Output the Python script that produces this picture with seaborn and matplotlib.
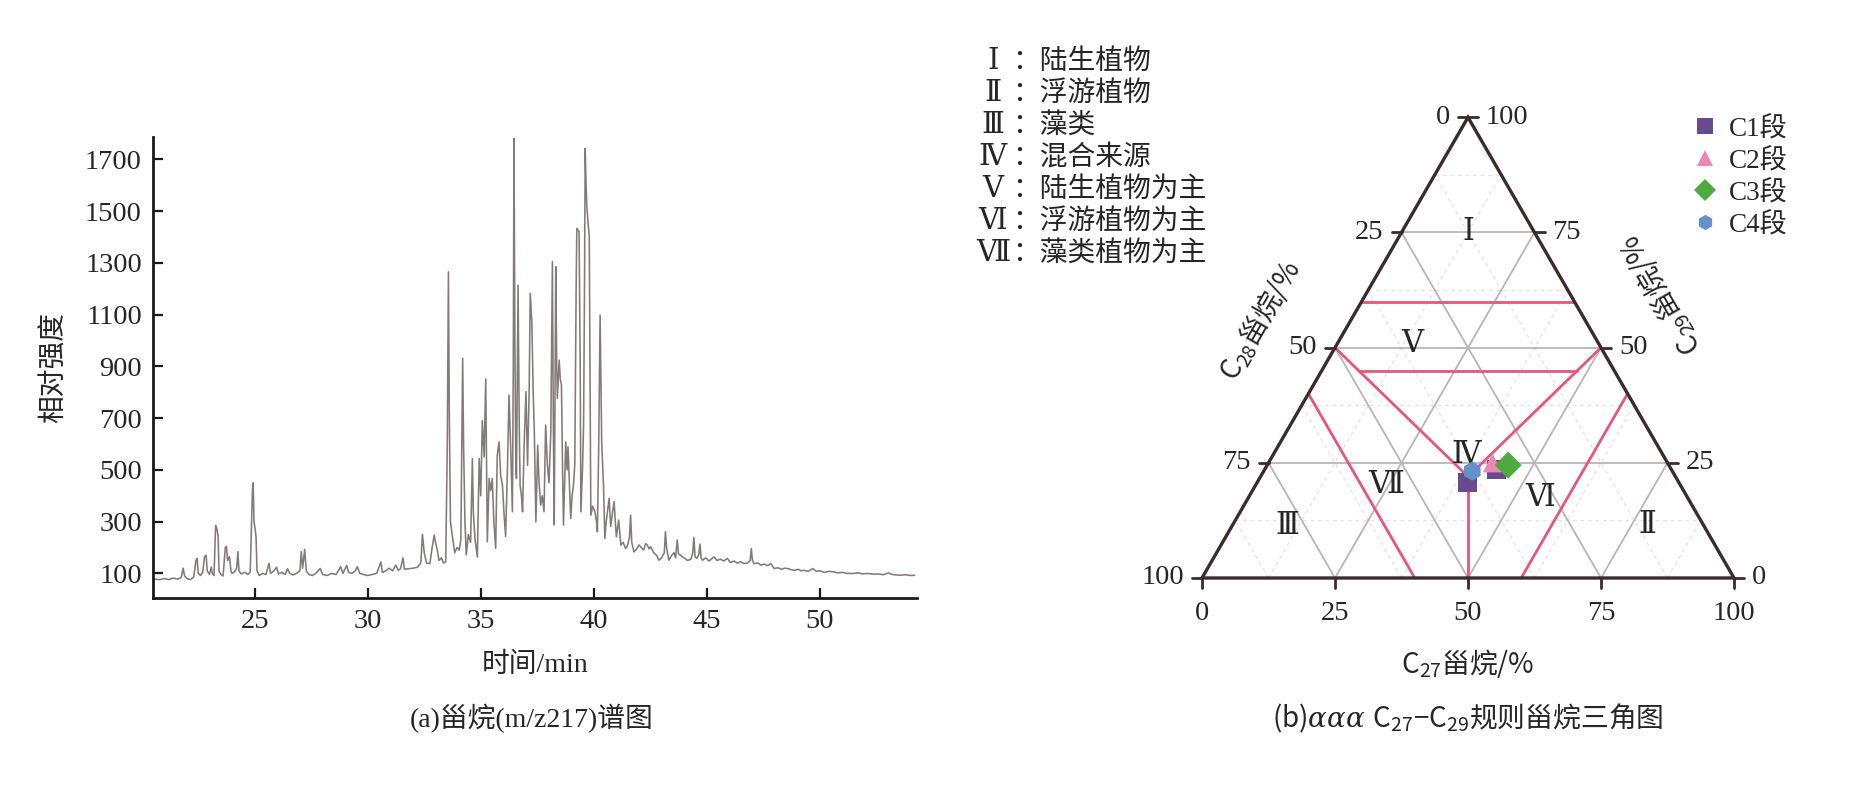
import numpy as np
import pandas as pd
import matplotlib
matplotlib.use('Agg')
import matplotlib.pyplot as plt
import seaborn as sns

# ---- (a) steranes m/z 217 trace ----
time_min = [
    20.55, 20.8, 21.0, 21.2, 21.4, 21.6, 21.75, 21.83, 21.9, 22.0, 22.15, 22.3, 22.4, 22.45, 22.5,
    22.6, 22.7, 22.78, 22.85, 22.9, 23.0, 23.08, 23.12, 23.2, 23.27, 23.32, 23.38, 23.42, 23.5, 23.6,
    23.7, 23.75, 23.8, 23.88, 23.95, 24.0, 24.1, 24.2, 24.26, 24.3, 24.4, 24.55, 24.7, 24.8, 24.9,
    24.93, 24.97, 25.02, 25.06, 25.1, 25.2, 25.35, 25.5, 25.63, 25.7, 25.85, 25.97, 26.05, 26.2, 26.35,
    26.45, 26.55, 26.7, 26.85, 27.0, 27.06, 27.12, 27.21, 27.28, 27.4, 27.55, 27.7, 27.9, 28.0, 28.2,
    28.4, 28.6, 28.8, 28.9, 29.07, 29.15, 29.3, 29.45, 29.54, 29.65, 29.8, 30.0, 30.2, 30.4, 30.58,
    30.65, 30.8, 30.95, 31.1, 31.24, 31.35, 31.45, 31.56, 31.62, 31.8, 32.0, 32.2, 32.35, 32.42, 32.5,
    32.6, 32.75, 32.85, 32.94, 33.0, 33.08, 33.15, 33.26, 33.35, 33.45, 33.52, 33.57, 33.61, 33.66, 33.75,
    33.85, 33.95, 34.05, 34.12, 34.2, 34.24, 34.3, 34.36, 34.45, 34.55, 34.63, 34.67, 34.75, 34.85, 34.93,
    35.0, 35.07, 35.15, 35.22, 35.26, 35.29, 35.37, 35.44, 35.51, 35.58, 35.66, 35.73, 35.81, 35.88, 35.96,
    36.03, 36.1, 36.18, 36.25, 36.32, 36.4, 36.44, 36.47, 36.51, 36.55, 36.58, 36.65, 36.7, 36.74, 36.8,
    36.85, 36.92, 37.0, 37.07, 37.14, 37.19, 37.26, 37.32, 37.37, 37.44, 37.52, 37.58, 37.65, 37.72, 37.8,
    37.87, 37.95, 38.02, 38.1, 38.17, 38.21, 38.25, 38.32, 38.36, 38.39, 38.47, 38.52, 38.57, 38.62, 38.66,
    38.76, 38.82, 38.86, 38.92, 38.98, 39.04, 39.1, 39.16, 39.22, 39.25, 39.35, 39.4, 39.43, 39.5, 39.55,
    39.59, 39.62, 39.66, 39.69, 39.75, 39.8, 39.84, 39.87, 39.95, 40.05, 40.12, 40.16, 40.22, 40.28, 40.32,
    40.35, 40.43, 40.49, 40.55, 40.62, 40.68, 40.75, 40.82, 40.9, 40.96, 41.0, 41.06, 41.1, 41.2, 41.3,
    41.41, 41.5, 41.58, 41.63, 41.68, 41.78, 41.9, 42.0, 42.07, 42.2, 42.3, 42.37, 42.45, 42.52, 42.65,
    42.78, 42.88, 43.0, 43.12, 43.17, 43.22, 43.32, 43.45, 43.55, 43.62, 43.69, 43.75, 43.85, 43.91, 44.0,
    44.15, 44.3, 44.38, 44.43, 44.48, 44.55, 44.64, 44.7, 44.75, 44.81, 44.95, 45.1, 45.2, 45.32, 45.45,
    45.6, 45.75, 45.91, 46.05, 46.2, 46.35, 46.5, 46.65, 46.8, 46.92, 46.97, 47.02, 47.09, 47.25, 47.4,
    47.55, 47.7, 47.83, 47.98, 48.15, 48.3, 48.45, 48.57, 48.75, 48.9, 49.05, 49.16, 49.3, 49.5, 49.68,
    49.85, 50.0, 50.2, 50.4, 50.6, 50.8, 51.0, 51.2, 51.5, 51.7, 51.9, 52.1, 52.4, 52.6, 52.8,
    53.05, 53.2, 53.4, 53.6, 53.8, 54.0, 54.2,
]
intensity = [
    78, 76, 80, 76, 82, 78, 84, 120, 90, 80, 76, 86, 150, 158, 100,
    92, 104, 165, 170, 110, 96, 125, 100, 92, 285, 275, 244, 110, 96, 90,
    200, 204, 150, 165, 110, 100, 105, 120, 184, 110, 98, 104, 96, 105, 420,
    450, 300, 270, 240, 110, 92, 100, 96, 139, 100, 110, 124, 98, 104, 96,
    118, 100, 94, 100, 110, 184, 120, 193, 110, 96, 92, 100, 119, 96, 92,
    100, 96, 126, 100, 131, 104, 100, 110, 126, 100, 96, 92, 96, 100, 144,
    104, 110, 120, 110, 132, 112, 118, 160, 116, 118, 120, 124, 140, 251, 180,
    140, 138, 200, 248, 220, 190, 150, 160, 140, 145, 600, 1265, 700, 300, 240,
    180, 200, 190, 230, 931, 600, 300, 171, 250, 220, 544, 338, 230, 163, 544,
    400, 690, 550, 851, 500, 222, 467, 420, 467, 300, 197, 557, 608, 480, 441,
    330, 242, 500, 789, 600, 338, 900, 1780, 1000, 520, 467, 1214, 700, 441, 400,
    338, 600, 802, 518, 800, 1182, 1072, 800, 647, 299, 595, 450, 364, 400, 338,
    673, 518, 450, 647, 1304, 700, 287, 1285, 900, 776, 924, 850, 828, 500, 287,
    608, 500, 589, 450, 312, 400, 441, 518, 1200, 1433, 1420, 900, 338, 500, 673,
    1200, 1742, 1600, 1523, 1450, 1407, 800, 325, 360, 338, 300, 261, 600, 1098, 800,
    608, 441, 235, 300, 350, 390, 281, 330, 377, 290, 241, 280, 306, 209, 220,
    196, 210, 240, 325, 220, 183, 195, 210, 203, 190, 215, 209, 195, 203, 180,
    170, 151, 160, 180, 261, 200, 151, 170, 180, 160, 229, 175, 170, 164, 160,
    150, 155, 180, 239, 165, 158, 170, 213, 160, 151, 160, 148, 155, 164, 150,
    155, 148, 158, 142, 148, 140, 145, 138, 140, 150, 196, 150, 138, 140, 132,
    136, 130, 138, 119, 122, 116, 120, 119, 114, 112, 116, 110, 112, 108, 119,
    108, 110, 104, 108, 106, 102, 104, 100, 100, 102, 98, 100, 97, 98, 95,
    102, 96, 94, 93, 95, 92, 93,
]
x_ticks_a = [25, 30, 35, 40, 45, 50]
y_ticks_a = [100, 300, 500, 700, 900, 1100, 1300, 1500, 1700]

# ---- (b) ternary diagram, percentages ----
segment = ['C1段', 'C1段', 'C2段', 'C3段', 'C4段']
c27 = [39.5, 43.5, 42.1, 45.3, 39.2]
c28 = [39.8, 32.9, 32.9, 30.2, 37.6]
c29 = [20.7, 23.6, 25.0, 24.5, 23.2]
seg_order = ['C1段', 'C2段', 'C3段', 'C4段']
seg_colors = ['#6a4a8e', '#ec88b8', '#4faa3e', '#6690c8']
seg_markers = ['s', '^', 'D', 'h']

# region boundary segments, each as (C27 start, C27 end), (C29 start, C29 end)
bound_c27 = [[0, 40], [7, 48], [0, 39], [50, 39], [39, 50], [0, 40], [60, 60]]
bound_c29 = [[60, 60], [45, 45], [50, 22], [50, 22], [22, 0], [40, 0], [40, 0]]

region_names = ['Ⅰ', 'Ⅱ', 'Ⅲ', 'Ⅳ', 'Ⅴ', 'Ⅵ', 'Ⅶ']
region_desc = ['陆生植物', '浮游植物', '藻类', '混合来源', '陆生植物为主', '浮游植物为主', '藻类植物为主']
tern_ticks = [0, 25, 50, 75, 100]

sns.set_style('ticks')
plt.rcParams['font.family'] = ['Liberation Serif', 'Noto Sans CJK SC', 'DejaVu Sans']
plt.rcParams['mathtext.fontset'] = 'custom'
plt.rcParams['mathtext.rm'] = 'Noto Sans CJK SC'
plt.rcParams['mathtext.it'] = 'DejaVu Serif:italic'
plt.rcParams['axes.unicode_minus'] = False

W, H = 1850, 791
fig = plt.figure(figsize=(W / 100, H / 100), dpi=100)


def fx(px):
    return px / W


def fy(py):
    return 1 - py / H


# ---------------- (a) chromatogram ----------------
ax1 = fig.add_axes([fx(153), fy(598), fx(917) - fx(153), fy(137) - fy(598)])
sns.lineplot(x=time_min, y=intensity, ax=ax1, color='#857a7a', lw=1.15,
             estimator=None, sort=False)
ax1.set_xlim(20.5, 54.3)
ax1.set_ylim(5, 1786)
ax1.set_xticks(x_ticks_a)
ax1.set_yticks(y_ticks_a)
for s in ['top', 'right']:
    ax1.spines[s].set_visible(False)
for s in ['left', 'bottom']:
    ax1.spines[s].set_linewidth(2.0)
    ax1.spines[s].set_color('#1a1a1a')
ax1.tick_params(direction='in', length=7, width=1.6, color='#1a1a1a',
                labelsize=20.5, pad=8)
ax1.set_xlabel('时间/min', fontsize=20)
ax1.set_ylabel('相对强度', fontsize=20)
ax1.xaxis.set_label_coords(0.5, -0.118)
ax1.yaxis.set_label_coords(-0.112, 0.5)
fig.text(fx(532), fy(718), '(a)甾烷(m/z217)谱图', fontsize=20, ha='center', va='center')

# ---------------- (b) ternary ----------------
S3 = np.sqrt(3) / 2
ppu = 5.32
x0, y0 = 1202, 578
ax2 = fig.add_axes([fx(1100), 0, fx(1850) - fx(1100), 1])
ax2.set_xlim((1100 - x0) / ppu, (1850 - x0) / ppu)
ax2.set_ylim(-(791 - y0) / ppu, y0 / ppu)
ax2.axis('off')


def tern(a27, a29):
    a27 = np.asarray(a27, dtype=float)
    a29 = np.asarray(a29, dtype=float)
    return a27 + a29 / 2, a29 * S3


# minor dashed grid
for v in [12.5, 37.5, 62.5, 87.5]:
    for (pa, pb) in [((0, v), (100 - v, v)), ((v, 0), (v, 100 - v)), ((100 - v, 0), (0, 100 - v))]:
        xs, ys = tern([pa[0], pb[0]], [pa[1], pb[1]])
        ax2.plot(xs, ys, color='#ebe0e0', lw=0.9, ls=(0, (3, 3)), zorder=1)
# major grid
for v in [25, 50, 75]:
    for (pa, pb) in [((0, v), (100 - v, v)), ((v, 0), (v, 100 - v)), ((100 - v, 0), (0, 100 - v))]:
        xs, ys = tern([pa[0], pb[0]], [pa[1], pb[1]])
        ax2.plot(xs, ys, color='#bdb3b3', lw=1.3, zorder=2)

# region boundaries
for b27, b29 in zip(bound_c27, bound_c29):
    xs, ys = tern(b27, b29)
    ax2.plot(xs, ys, color='#e4577a', lw=2.0, zorder=3, solid_capstyle='round')

# outline
ox, oy = tern([0, 100, 0, 0], [0, 0, 100, 0])
ax2.plot(ox, oy, color='#3b2b2b', lw=2.4, zorder=4, solid_joinstyle='miter')

# ticks and tick labels
tl = 10 / ppu
gap = 8 / ppu
for v in tern_ticks:
    # bottom (C27)
    bx, by = tern(v, 0)
    ax2.plot([bx, bx], [by, by - tl], color='#3b2b2b', lw=2.0, zorder=4)
    ax2.text(bx, by - 35 / ppu, str(v), fontsize=20.5, ha='center', va='center')
    # left (C28 = v, C27 = 0)
    lx, ly = tern(0, 100 - v)
    ax2.plot([lx - tl, lx], [ly, ly], color='#3b2b2b', lw=2.0, zorder=4)
    ax2.text(lx - tl - gap, ly, str(v), fontsize=20.5, ha='right', va='center')
    # right (C29 = v, C28 = 0)
    rx, ry = tern(100 - v, v)
    ax2.plot([rx, rx + tl], [ry, ry], color='#3b2b2b', lw=2.0, zorder=4)
    ax2.text(rx + tl + gap, ry, str(v), fontsize=20.5, ha='left', va='center')

# region labels
region_pos_c27 = [12.4, 77.9, 10.4, 36.2, 14.0, 54.8, 24.6]
region_pos_c29 = [75.2, 11.7, 11.4, 26.8, 50.9, 17.5, 20.2]
for name, a, b in zip(region_names, region_pos_c27, region_pos_c29):
    tx, ty = tern(a, b)
    ax2.text(tx, ty, name, fontsize=22, ha='center', va='center', zorder=5,
             family=['DejaVu Serif', 'Noto Sans CJK SC'])

# data points
px, py = tern(c27, c29)
df = pd.DataFrame({'x': px, 'y': py, 'seg': segment})
sns.scatterplot(data=df, x='x', y='y', hue='seg', style='seg', hue_order=seg_order,
                style_order=seg_order, palette=dict(zip(seg_order, seg_colors)),
                markers=dict(zip(seg_order, seg_markers)), s=190, edgecolor='none',
                ax=ax2, zorder=6, legend=True)
handles, labels = ax2.get_legend_handles_labels()
ax2.legend(handles, labels, loc='upper left', bbox_to_anchor=(fx(1690), fy(116)),
           bbox_transform=fig.transFigure, frameon=False, fontsize=19.5,
           handletextpad=0.35, labelspacing=0.24, borderpad=0, borderaxespad=0,
           handlelength=1.1, markerscale=0.8)
ax2.set_xlabel('')
ax2.set_ylabel('')

# axis titles
ax2.text((1260 - x0) / ppu, (y0 - 320) / ppu, r'$\mathrm{C_{28}甾烷/\%}$', fontsize=20,
         rotation=60, ha='center', va='center', rotation_mode='anchor')
ax2.text((1660 - x0) / ppu, (y0 - 295) / ppu, r'$\mathrm{C_{29}甾烷/\%}$', fontsize=20,
         rotation=120, ha='center', va='center', rotation_mode='anchor')
ax2.text(50, -(663 - y0) / ppu, r'$\mathrm{C_{27}甾烷/\%}$', fontsize=20,
         ha='center', va='center')
fig.text(fx(1468), fy(718), r'$\mathrm{(b)}\mathit{ααα}\ \mathrm{C_{27}{-}C_{29}规则甾烷三角图}$',
         fontsize=20, ha='center', va='center')

# roman numeral key
for i, (name, desc) in enumerate(zip(region_names, region_desc)):
    yy = fy(61 + 32 * i)
    fig.text(fx(993), yy, name, fontsize=21, ha='center', va='center',
             family=['DejaVu Serif', 'Noto Sans CJK SC'])
    fig.text(fx(1012), yy, '：' + desc, fontsize=20, ha='left', va='center',
             family=['Noto Sans CJK SC', 'DejaVu Sans'])

fig.savefig('out.png', dpi=100)
